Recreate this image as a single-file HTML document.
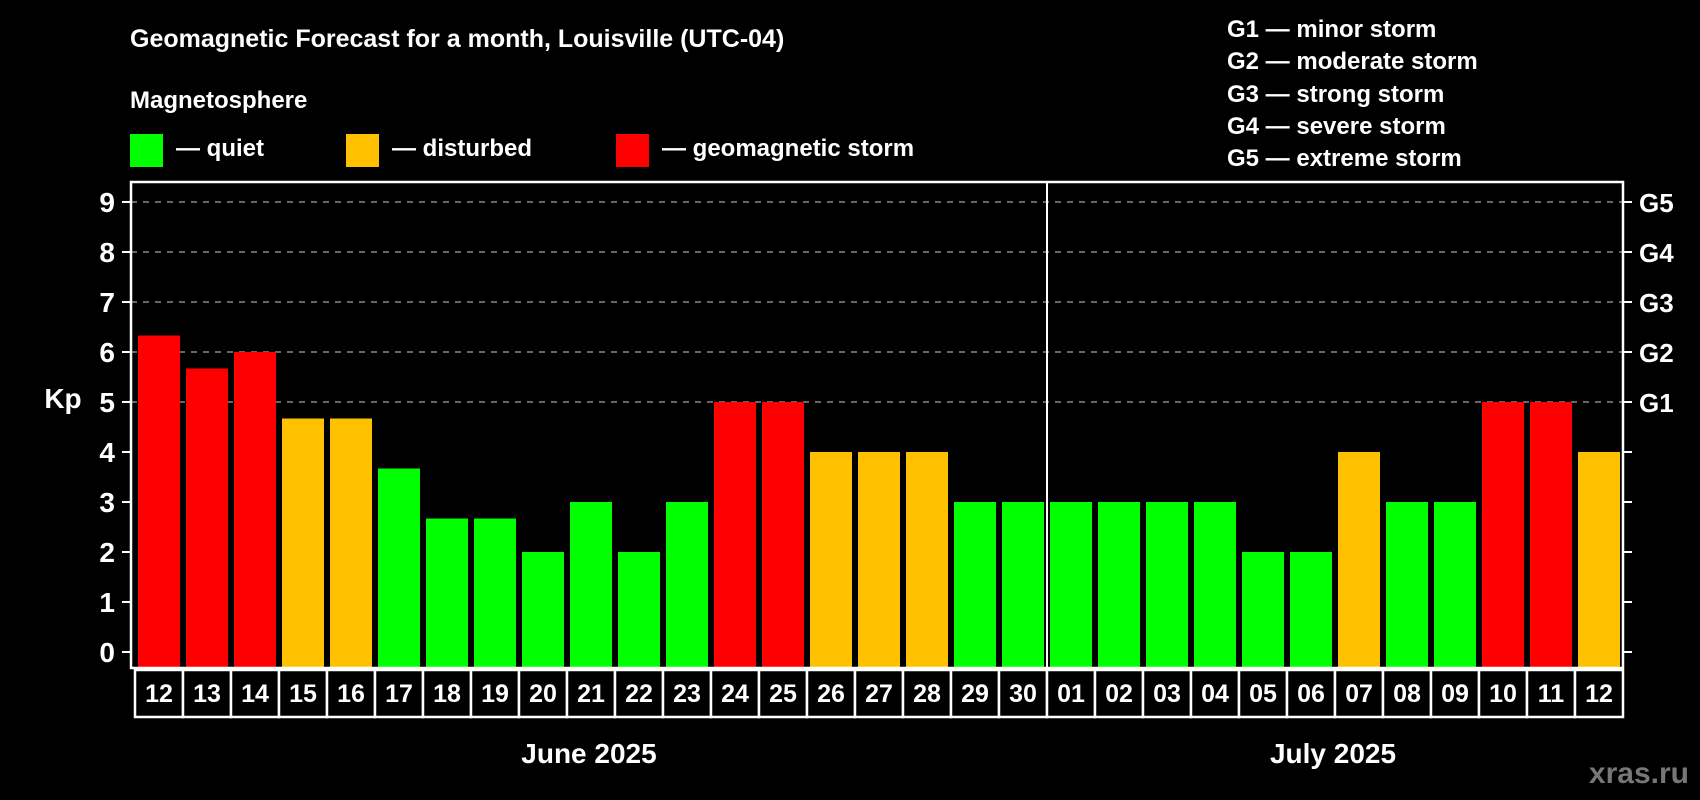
<!DOCTYPE html>
<html><head><meta charset="utf-8"><style>
html,body{margin:0;padding:0;background:#000;}
svg{display:block;font-family:"Liberation Sans",Arial,sans-serif;font-weight:bold;}
</style></head><body>
<svg id="chart" width="1700" height="800" viewBox="0 0 1700 800">
<rect x="0" y="0" width="1700" height="800" fill="#000"/>
<text x="130" y="47" fill="#fff" font-size="25">Geomagnetic Forecast for a month, Louisville (UTC-04)</text>
<text x="130" y="108" fill="#fff" font-size="24">Magnetosphere</text>
<g><rect x="130" y="134" width="33" height="33" fill="#00ff00"/><text x="176" y="156" fill="#fff" font-size="24">— quiet</text></g>
<g><rect x="346" y="134" width="33" height="33" fill="#ffc000"/><text x="392" y="156" fill="#fff" font-size="24">— disturbed</text></g>
<g><rect x="616" y="134" width="33" height="33" fill="#ff0000"/><text x="662" y="156" fill="#fff" font-size="24">— geomagnetic storm</text></g>
<g fill="#fff" font-size="24">
<text x="1227" y="37">G1 — minor storm</text>
<text x="1227" y="69">G2 — moderate storm</text>
<text x="1227" y="102">G3 — strong storm</text>
<text x="1227" y="134">G4 — severe storm</text>
<text x="1227" y="166">G5 — extreme storm</text>
</g>
<text x="63" y="408" fill="#fff" font-size="28" text-anchor="middle">Kp</text>
<g id="grid"></g><g id="bars"></g><g id="axes"></g><g id="dates"></g>
<text x="589" y="763" fill="#fff" font-size="28" text-anchor="middle">June 2025</text>
<text x="1333" y="763" fill="#fff" font-size="28" text-anchor="middle">July 2025</text>
<text x="1689" y="783" fill="#777" font-size="30" text-anchor="end">xras.ru</text>
</svg>
<script>
const days = ["12","13","14","15","16","17","18","19","20","21","22","23","24","25","26","27","28","29","30","01","02","03","04","05","06","07","08","09","10","11","12"];
const kpValues = [6.33,5.67,6,4.67,4.67,3.67,2.67,2.67,2,3,2,3,5,5,4,4,4,3,3,3,3,3,3,2,2,4,3,3,5,5,4];
const yTicks = [0,1,2,3,4,5,6,7,8,9];
const gLabels = ["G1","G2","G3","G4","G5"];
const gLevels = [5,6,7,8,9];
const monthSplitIndex = 19;

const NS="http://www.w3.org/2000/svg";
const L=131,R=1623,T=182,B=668,X0=135,SLOT=48;
const y=v=>652-50*v;
const x=i=>X0+i*SLOT;
function mk(tag,attrs,parent){const e=document.createElementNS(NS,tag);for(const k in attrs)e.setAttribute(k,attrs[k]);parent.appendChild(e);return e;}
const grid=document.getElementById('grid'),bars=document.getElementById('bars'),axes=document.getElementById('axes'),dates=document.getElementById('dates');
gLevels.forEach((v,i)=>{
  const l=mk('line',{x1:L,x2:R,y1:y(v),y2:y(v),stroke:'#888','stroke-width':1.5,'stroke-dasharray':'6,6'},grid);
  
  
});
function color(v){return v>=5?'#ff0000':(v>=4?'#ffc000':'#00ff00');}
kpValues.forEach((v,i)=>{
  const r=mk('rect',{x:x(i)+3,y:y(v),width:42,height:B-y(v),fill:color(v)},bars);
  
  
});
const frame=mk('rect',{x:L,y:T,width:R-L,height:B-T,fill:'none',stroke:'#fff','stroke-width':2.5},axes);


const div=mk('line',{x1:x(monthSplitIndex),x2:x(monthSplitIndex),y1:T,y2:B,stroke:'#fff','stroke-width':2},axes);


yTicks.forEach(v=>{
  mk('line',{x1:L-9,x2:L,y1:y(v),y2:y(v),stroke:'#fff','stroke-width':2},axes);
  mk('line',{x1:R,x2:R+9,y1:y(v),y2:y(v),stroke:'#fff','stroke-width':2},axes);
  const t=mk('text',{x:L-16,y:y(v)+10,fill:'#fff','font-size':28,'text-anchor':'end'},axes);
  t.textContent=v;
  
  
});
gLabels.forEach((g,i)=>{
  const t=mk('text',{x:R+16,y:y(gLevels[i])+10,fill:'#fff','font-size':26},axes);
  t.textContent=g;
  
  
});
days.forEach((d,i)=>{
  const c=mk('rect',{x:x(i),y:670,width:SLOT,height:47,fill:'#000',stroke:'#fff','stroke-width':2.5},dates);
  
  
  const t=mk('text',{x:x(i)+SLOT/2,y:702,fill:'#fff','font-size':25,'text-anchor':'middle'},dates);
  t.textContent=d;
  
  
});
</script>
</body></html>
